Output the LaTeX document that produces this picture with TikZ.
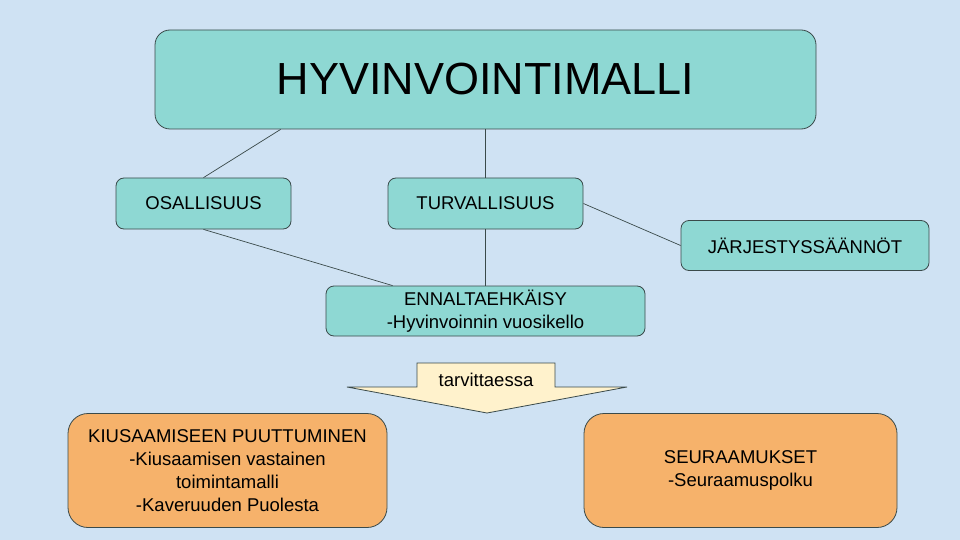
\documentclass[tikz,border=0pt]{standalone}
\usepackage{fontspec}
\setmainfont{Liberation Sans}
\definecolor{bgblue}{HTML}{CFE2F3}
\definecolor{teal}{HTML}{8ED8D3}
\definecolor{orng}{HTML}{F6B26B}
\definecolor{pale}{HTML}{FFF2CC}
\definecolor{edge}{HTML}{3A4A4A}
\begin{document}
\begin{tikzpicture}[x=1pt,y=-1pt,
  tealbox/.style={draw=edge, line width=0.8pt, fill=teal, rounded corners=8pt, inner sep=0pt, align=center, font=\fontsize{18.5}{23}\selectfont},
  orangebox/.style={draw=edge, line width=0.8pt, fill=orng, rounded corners=20pt, inner sep=0pt, align=center, font=\fontsize{18.5}{23}\selectfont},
  conn/.style={draw=edge, line width=0.7pt}]
\fill[bgblue] (0,0) rectangle (960,540);
\useasboundingbox (0,0) rectangle (960,540);

\node[tealbox, rounded corners=15pt, minimum width=661pt, minimum height=99pt, font=\fontsize{45}{50}\selectfont] (top) at (485.5,79.5) {HYVINVOINTIMALLI};
\node[tealbox, minimum width=175pt, minimum height=51pt] (osal) at (203.5,203.5) {OSALLISUUS};
\node[tealbox, minimum width=195pt, minimum height=51pt] (turv) at (485.5,203.5) {TURVALLISUUS};
\node[tealbox, minimum width=248pt, minimum height=50pt] (jarj) at (805,245.5) {JÄRJESTYSSÄÄNNÖT};
\node[tealbox, minimum width=319pt, minimum height=50pt] (enn) at (485.5,311) {ENNALTAEHKÄISY\\-Hyvinvoinnin vuosikello};

\draw[conn] ([xshift=126pt]top.south west) -- (osal.north);
\draw[conn] (top.south) -- (turv.north);
\draw[conn] (osal.south) -- ([xshift=67pt]enn.north west);
\draw[conn] (turv.south) -- (enn.north);
\draw[conn] (turv.east) -- (jarj.west);

\draw[draw=edge, line width=0.8pt, fill=pale] (417,363) -- (555,363) -- (555,387) -- (627,387) -- (487,413) -- (347,387) -- (417,387) -- cycle;
\node[font=\fontsize{18.5}{23}\selectfont, inner sep=0pt] (tarv) at (486,380) {tarvittaessa};

\node[orangebox, minimum width=319pt, minimum height=114pt] (kius) at (227.5,470.5) {KIUSAAMISEEN PUUTTUMINEN\\-Kiusaamisen vastainen\\toimintamalli\\-Kaveruuden Puolesta};
\node[orangebox, minimum width=313pt, minimum height=114pt] (seur) at (740.5,470.5) {SEURAAMUKSET\\-Seuraamuspolku};
\end{tikzpicture}
\end{document}
